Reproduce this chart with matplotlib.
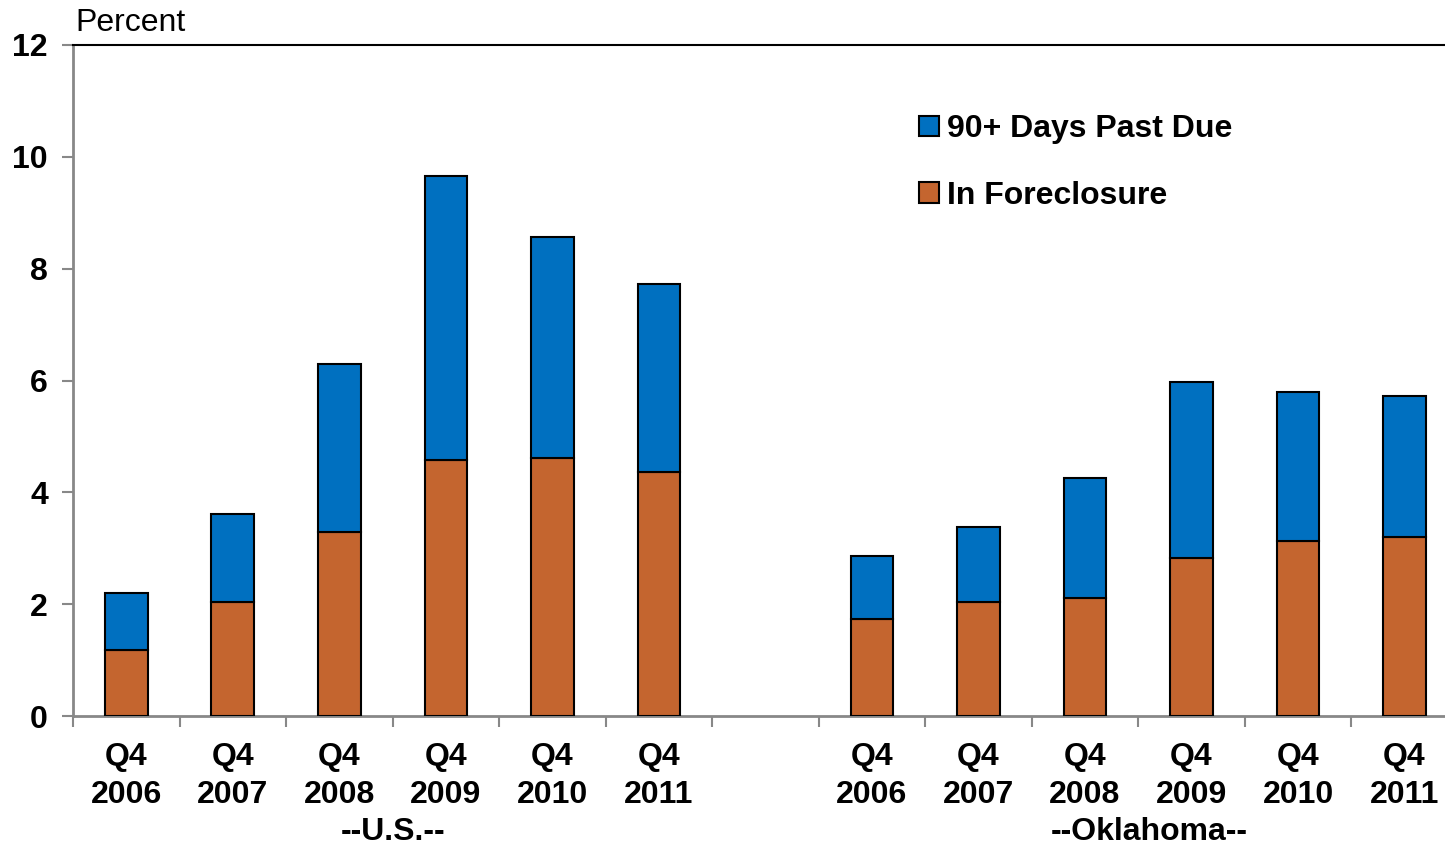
import matplotlib.pyplot as plt
from matplotlib.patches import Patch

plt.rcParams['font.family'] = ['Liberation Sans', 'DejaVu Sans']

# dados (percentual)
anos = ['2006', '2007', '2008', '2009', '2010', '2011']
us_foreclosure = [1.18, 2.04, 3.29, 4.58, 4.62, 4.36]
us_total = [2.20, 3.61, 6.30, 9.66, 8.57, 7.73]
ok_foreclosure = [1.74, 2.04, 2.11, 2.83, 3.13, 3.20]
ok_total = [2.86, 3.38, 4.26, 5.97, 5.80, 5.72]

us_past_due = [t - f for t, f in zip(us_total, us_foreclosure)]
ok_past_due = [t - f for t, f in zip(ok_total, ok_foreclosure)]

azul = '#0070C0'
laranja = '#C4652F'

fig = plt.figure(figsize=(14.45, 8.48), dpi=100)
ax = fig.add_axes([73 / 1445, 1 - 716 / 848, 1 - 73 / 1445, (716 - 45) / 848])

pos_us = list(range(6))
pos_ok = list(range(7, 13))
largura = 0.40

for pos, fc, pd_ in [(pos_us, us_foreclosure, us_past_due), (pos_ok, ok_foreclosure, ok_past_due)]:
    ax.bar(pos, fc, width=largura, color=laranja, edgecolor='black', linewidth=1.5, zorder=3)
    ax.bar(pos, pd_, bottom=fc, width=largura, color=azul, edgecolor='black', linewidth=1.5, zorder=3)

ax.set_xlim(-0.5, 12.38)
ax.set_ylim(0, 12)
ax.set_yticks(range(0, 13, 2))
ax.set_yticklabels([str(v) for v in range(0, 13, 2)], fontsize=23, fontweight='bold')

ax.set_xticks([i - 0.5 for i in range(13)])
ax.set_xticklabels([])
ax.tick_params(axis='x', length=8, width=1.5, color='#888888', direction='out')
ax.tick_params(axis='y', length=8, width=1.5, color='#888888', direction='out', pad=10)

for s in ['left', 'bottom']:
    ax.spines[s].set_color('#888888')
    ax.spines[s].set_linewidth(2)
ax.spines['right'].set_visible(False)
ax.spines['top'].set_color('black')
ax.spines['top'].set_linewidth(1.5)

# rótulos das categorias
for pos in (pos_us, pos_ok):
    for p, a in zip(pos, anos):
        ax.text(p, -0.73, 'Q4', ha='center', va='center', fontsize=23, fontweight='bold')
        ax.text(p, -1.41, a, ha='center', va='center', fontsize=23, fontweight='bold')
ax.text(2.5, -2.08, '--U.S.--', ha='center', va='center', fontsize=23, fontweight='bold')
ax.text(9.6, -2.08, '--Oklahoma--', ha='center', va='center', fontsize=23, fontweight='bold')

ax.text(0.0015, 1.01, 'Percent', transform=ax.transAxes, ha='left', va='bottom', fontsize=23)

handles = [Patch(facecolor=azul, edgecolor='black', linewidth=1.5, label='90+ Days Past Due'),
           Patch(facecolor=laranja, edgecolor='black', linewidth=1.5, label='In Foreclosure')]
ax.legend(handles=handles, loc='upper left', bbox_to_anchor=(0.596, 0.94), frameon=False,
          prop={'size': 23, 'weight': 'bold'}, handlelength=0.6, handleheight=0.6,
          handletextpad=0.25, labelspacing=1.15)

plt.savefig('out.png', dpi=100)
